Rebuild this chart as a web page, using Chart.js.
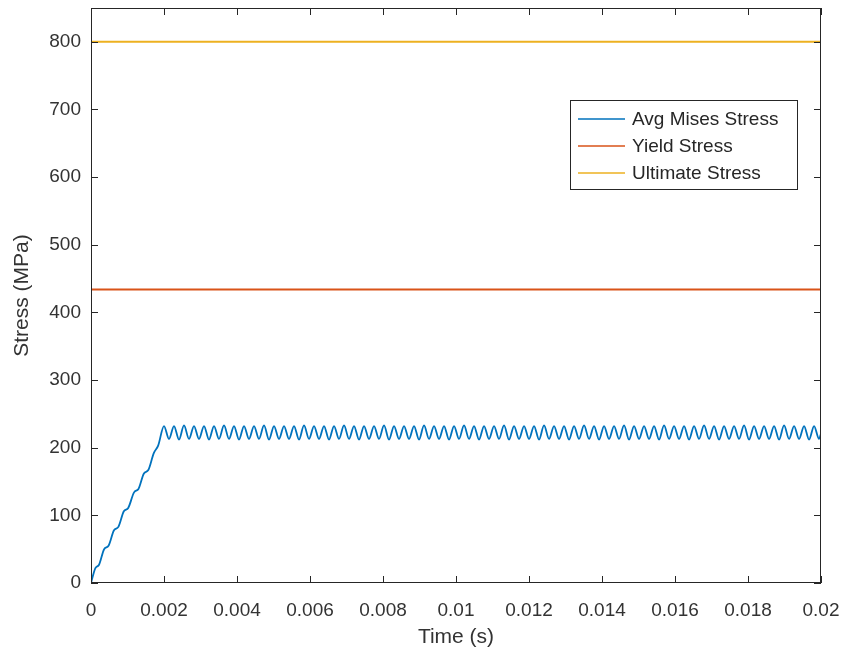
<!DOCTYPE html>
<html>
<head>
<meta charset="utf-8">
<script src="https://cdn.jsdelivr.net/npm/chart.js@4.4.0/dist/chart.umd.min.js"></script>
<style>
  body { margin: 0; background: #fff; }
  canvas { display: block; }
</style>
</head>
<body>
<canvas id="stressChart" width="843" height="658"></canvas>
<script>
// time stamps of the avg mises curve, in microseconds
const timeUs = [
  0, 120, 220, 360, 480, 630, 750, 900, 1020, 1180, 1300, 1450, 1570, 1720, 1840,
  2000, 2137, 2274, 2411, 2548, 2685, 2822, 2959, 3096, 3233, 3370, 3507, 3644, 3781, 3918,
  4055, 4192, 4329, 4466, 4603, 4740, 4877, 5014, 5151, 5288, 5425, 5562, 5699, 5836, 5973,
  6110, 6247, 6384, 6521, 6658, 6795, 6932, 7069, 7206, 7343, 7480, 7617, 7754, 7891, 8028,
  8165, 8302, 8439, 8576, 8713, 8850, 8987, 9124, 9261, 9398, 9535, 9672, 9809, 9946, 10083,
  10220, 10357, 10494, 10631, 10768, 10905, 11042, 11179, 11316, 11453, 11590, 11727, 11864, 12001, 12138,
  12275, 12412, 12549, 12686, 12823, 12960, 13097, 13234, 13371, 13508, 13645, 13782, 13919, 14056, 14193,
  14330, 14467, 14604, 14741, 14878, 15015, 15152, 15289, 15426, 15563, 15700, 15837, 15974, 16111, 16248,
  16385, 16522, 16659, 16796, 16933, 17070, 17207, 17344, 17481, 17618, 17755, 17892, 18029, 18166, 18303,
  18440, 18577, 18714, 18851, 18988, 19125, 19262, 19399, 19536, 19673, 19810, 19947, 20000
];
// avg mises stress (MPa)
const misesStress = [
  0, 22, 27, 50, 55, 78, 83, 106, 111, 134, 139, 162, 167, 192, 203,
  232, 213, 232, 212, 233, 213, 232, 213, 232, 212, 232, 213, 233, 213, 232,
  212, 232, 213, 232, 213, 233, 212, 232, 213, 232, 213, 232, 212, 233, 213,
  232, 213, 232, 212, 232, 213, 233, 213, 232, 212, 232, 213, 232, 213, 233,
  212, 232, 213, 232, 213, 232, 212, 233, 213, 232, 213, 232, 212, 232, 213,
  233, 213, 232, 212, 232, 213, 232, 213, 233, 212, 232, 213, 232, 213, 232,
  212, 233, 213, 232, 213, 232, 212, 232, 213, 233, 213, 232, 212, 232, 213,
  232, 213, 233, 212, 232, 213, 232, 213, 232, 212, 233, 213, 232, 213, 232,
  212, 232, 213, 233, 213, 232, 212, 232, 213, 232, 213, 233, 212, 232, 213,
  232, 213, 232, 212, 233, 213, 232, 213, 232, 212, 232, 213, 221
];
const yieldStress = 434;
const ultimateStress = 800;
const timeRange = [0, 0.02];
const seriesLabels = ["Avg Mises Stress", "Yield Stress", "Ultimate Stress"];
const seriesColors = ["#0072BD", "#D95319", "#EDB120"];

const fontFamily = "'Liberation Sans', Arial, Helvetica, sans-serif";

// box with inward ticks + legend drawn inside the axes, matlab style
const matlabBox = {
  id: "matlabBox",
  afterDatasetsDraw(chart) {
    const { ctx, chartArea: a, scales } = chart;
    ctx.save();
    ctx.strokeStyle = "#262626";
    ctx.lineWidth = 1;
    ctx.strokeRect(a.left + 0.5, a.top + 0.5, a.right - a.left - 1, a.bottom - a.top - 1);
    const tl = 7;
    ctx.beginPath();
    scales.x.ticks.forEach((t) => {
      const px = Math.round(scales.x.getPixelForValue(t.value)) + 0.5;
      ctx.moveTo(px, a.bottom);
      ctx.lineTo(px, a.bottom - tl);
      ctx.moveTo(px, a.top);
      ctx.lineTo(px, a.top + tl);
    });
    scales.y.ticks.forEach((t) => {
      const py = Math.round(scales.y.getPixelForValue(t.value)) + 0.5;
      ctx.moveTo(a.left, py);
      ctx.lineTo(a.left + tl, py);
      ctx.moveTo(a.right, py);
      ctx.lineTo(a.right - tl, py);
    });
    ctx.stroke();

    // legend
    const lx = 570, ly = 100, lw = 227, lh = 89;
    ctx.fillStyle = "#fff";
    ctx.fillRect(lx, ly, lw, lh);
    ctx.strokeRect(lx + 0.5, ly + 0.5, lw, lh);
    ctx.font = "19px " + fontFamily;
    ctx.textBaseline = "middle";
    chart.data.datasets.forEach((ds, i) => {
      const y = ly + 19 + i * 27;
      ctx.strokeStyle = ds.borderColor;
      ctx.lineWidth = 1.5;
      ctx.beginPath();
      ctx.moveTo(lx + 8, y);
      ctx.lineTo(lx + 55, y);
      ctx.stroke();
      ctx.fillStyle = "#262626";
      ctx.fillText(ds.label, lx + 62, y + 1);
    });
    ctx.restore();
  },
};

function noScalePadding(scale) {
  scale.paddingLeft = 0;
  scale.paddingRight = 0;
  scale.paddingTop = 0;
  scale.paddingBottom = 0;
}

const ctx = document.getElementById("stressChart").getContext("2d");
new Chart(ctx, {
  type: "line",
  data: {
    datasets: [
      {
        label: seriesLabels[0],
        data: timeUs.map((t, i) => ({ x: t / 1e6, y: misesStress[i] })),
        borderColor: seriesColors[0],
        borderWidth: 1.8,
        cubicInterpolationMode: "monotone",
        pointRadius: 0,
        fill: false,
      },
      {
        label: seriesLabels[1],
        data: timeRange.map((t) => ({ x: t, y: yieldStress })),
        borderColor: seriesColors[1],
        borderWidth: 2,
        pointRadius: 0,
        fill: false,
      },
      {
        label: seriesLabels[2],
        data: timeRange.map((t) => ({ x: t, y: ultimateStress })),
        borderColor: seriesColors[2],
        borderWidth: 2,
        pointRadius: 0,
        fill: false,
      },
    ],
  },
  options: {
    responsive: false,
    animation: false,
    layout: { padding: { top: 8, right: 22, left: 0, bottom: 0 } },
    plugins: { legend: { display: false }, tooltip: { enabled: false } },
    scales: {
      x: {
        type: "linear",
        min: 0,
        max: 0.02,
        grid: { display: false },
        border: { display: false },
        ticks: {
          stepSize: 0.002,
          maxRotation: 0,
          padding: 8,
          color: "#333",
          font: { family: fontFamily, size: 19 },
          callback: (v) => String(+v.toFixed(3)),
        },
        title: {
          display: true,
          text: "Time (s)",
          color: "#333",
          font: { family: fontFamily, size: 21 },
          padding: { bottom: 8 },
        },
        afterFit: (scale) => { scale.height = 75; noScalePadding(scale); },
      },
      y: {
        min: 0,
        max: 850,
        grid: { display: false },
        border: { display: false },
        afterBuildTicks: (scale) => {
          scale.ticks = scale.ticks.filter((t) => t.value % 100 === 0);
        },
        ticks: {
          stepSize: 100,
          padding: 2,
          color: "#333",
          font: { family: fontFamily, size: 19 },
        },
        title: {
          display: true,
          text: "Stress (MPa)",
          color: "#333",
          font: { family: fontFamily, size: 21 },
          padding: { top: 10 },
        },
        afterFit: (scale) => { scale.width = 91; noScalePadding(scale); },
      },
    },
  },
  plugins: [matlabBox],
});
</script>
</body>
</html>
